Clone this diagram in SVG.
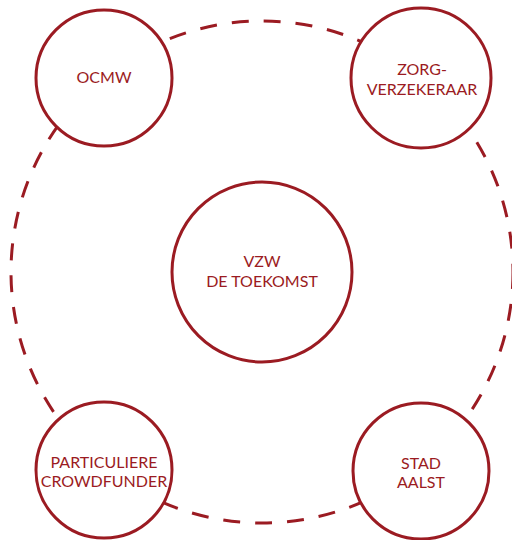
<svg xmlns="http://www.w3.org/2000/svg" width="512" height="540" viewBox="0 0 512 540">
<style>
.node{fill:#ffffff;stroke:#9b1b22;stroke-width:3}
.ring{fill:none;stroke:#9b1b22;stroke-width:3;stroke-dasharray:17 15}
text{font-family:Lato,"Open Sans","DejaVu Sans",sans-serif;font-size:16px;fill:#9b1b22;text-anchor:middle}
</style>
<rect width="512" height="540" fill="#ffffff"/>
<g id="connectors">
<circle class="ring" cx="262" cy="272" r="251"/>
</g>
<g id="ocmw">
<circle class="node" cx="104" cy="78" r="68"/>
<text x="104" y="83">OCMW</text>
</g>
<g id="zorgverzekeraar">
<circle class="node" cx="421" cy="78" r="70"/>
<text x="422" y="75">ZORG-</text>
<text x="422" y="95">VERZEKERAAR</text>
</g>
<g id="vzw">
<circle class="node" cx="262" cy="272" r="90"/>
<text x="262" y="267">VZW</text>
<text x="262" y="287">DE TOEKOMST</text>
</g>
<g id="particuliere">
<circle class="node" cx="104" cy="470" r="68"/>
<text x="104" y="468">PARTICULIERE</text>
<text x="104" y="487">CROWDFUNDER</text>
</g>
<g id="stad">
<circle class="node" cx="421" cy="471" r="68"/>
<text x="421" y="469">STAD</text>
<text x="421" y="488">AALST</text>
</g>
</svg>
